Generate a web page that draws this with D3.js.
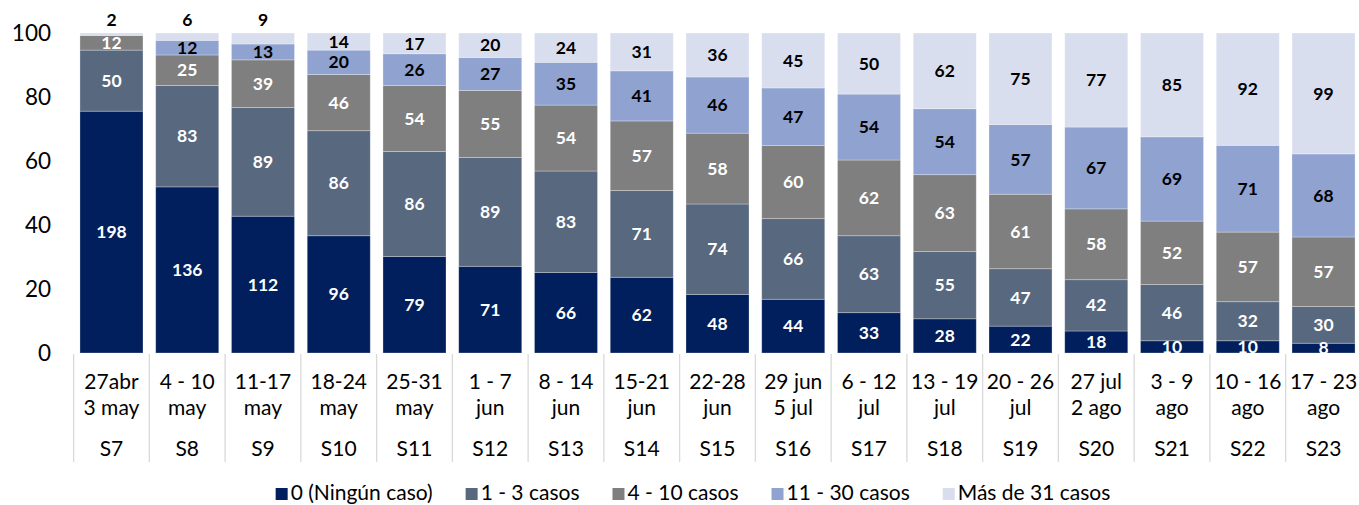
<!DOCTYPE html>
<html><head><meta charset="utf-8">
<script src="https://cdn.jsdelivr.net/npm/d3@7"></script>
<style>body{margin:0;background:#fff}svg{display:block;font-family:Lato,"Open Sans",sans-serif}</style>
</head><body><svg id="c" width="1359" height="505"></svg>
<script>
const weeks = ["S7","S8","S9","S10","S11","S12","S13","S14","S15","S16","S17","S18","S19","S20","S21","S22","S23"];
const dateLine1 = ["27abr","4 - 10","11-17","18-24","25-31","1 - 7","8 - 14","15-21","22-28","29 jun","6 - 12","13 - 19","20 - 26","27 jul","3 - 9","10 - 16","17 - 23"];
const dateLine2 = ["3 may","may","may","may","may","jun","jun","jun","jun","5 jul","jul","jul","jul","2 ago","ago","ago","ago"];
const seriesNames = ["0 (Ningún caso)","1 - 3 casos","4 - 10 casos","11 - 30 casos","Más de 31 casos"];
const ninguno = [198,136,112,96,79,71,66,62,48,44,33,28,22,18,10,10,8];
const casos1a3 = [50,83,89,86,86,89,83,71,74,66,63,55,47,42,46,32,30];
const casos4a10 = [12,25,39,46,54,55,54,57,58,60,62,63,61,58,52,57,57];
const casos11a30 = [0,12,13,20,26,27,35,41,46,47,54,54,57,67,69,71,68];
const casosMas31 = [2,6,9,14,17,20,24,31,36,45,50,62,75,77,85,92,99];
const yTicks = [0,20,40,60,80,100];

const colors = ["#001f5c","#58687f","#7f7f7f","#8fa2d0","#d9deef"];
const textColors = ["#fff","#fff","#fff","#000","#000"];
const series = [ninguno,casos1a3,casos4a10,casos11a30,casosMas31];

const svg = d3.select("#c");
const x = d3.scaleBand().domain(weeks).range([73.6,1361.4]).paddingInner(0.168).paddingOuter(0.084);
const y = d3.scaleLinear().domain([0,100]).range([353,33]);

const rows = weeks.map((w,i)=>{const r={week:w}; seriesNames.forEach((s,k)=>r[s]=series[k][i]); return r;});
const stack = d3.stack().keys(seriesNames).offset(d3.stackOffsetExpand);
const stacked = stack(rows);

// y axis labels
svg.append("g").selectAll("text").data(yTicks).join("text")
  .attr("x",51).attr("y",d=>y(d)).attr("dy","0.35em").attr("text-anchor","end")
  .attr("font-size",22.5).attr("fill","#000").text(d=>d);

// bars
const g = svg.append("g");
stacked.forEach((layer,k)=>{
  g.append("g").selectAll("rect").data(layer).join("rect")
    .attr("x",d=>x(d.data.week)).attr("width",x.bandwidth())
    .attr("y",d=>y(d[1]*100)).attr("height",d=>Math.max(0,y(d[0]*100)-y(d[1]*100)))
    .attr("fill",colors[k]).attr("stroke","rgba(255,255,255,0.35)").attr("stroke-width",0.8);
});
// labels
stacked.forEach((layer,k)=>{
  g.append("g").selectAll("text").data(layer.filter(d=>d.data[seriesNames[k]]>0)).join("text")
    .attr("x",d=>x(d.data.week)+x.bandwidth()/2)
    .attr("y",d=>{
      const h = y(d[0]*100)-y(d[1]*100);
      if (k===4 && h<12) return y(100)-13;
      return (y(d[0]*100)+y(d[1]*100))/2;
    })
    .attr("dy","0.35em").attr("text-anchor","middle")
    .attr("font-size",17.5).attr("font-weight","bold")
    .attr("fill",textColors[k]).text(d=>d.data[seriesNames[k]]);
});

// category axis separators
const step = x.step();
const bounds = weeks.map(w=>x(w)+x.bandwidth()/2-step/2).concat([x(weeks[weeks.length-1])+x.bandwidth()/2+step/2]);
svg.append("g").selectAll("line").data(bounds).join("line")
  .attr("x1",d=>d).attr("x2",d=>d).attr("y1",354).attr("y2",462)
  .attr("stroke","#d9d9d9").attr("stroke-width",1.3);

const cat = svg.append("g").attr("font-size",21).attr("fill","#000").attr("text-anchor","middle");
cat.selectAll(".l1").data(weeks).join("text").attr("x",d=>x(d)+x.bandwidth()/2).attr("y",389).text((d,i)=>dateLine1[i]);
cat.selectAll(".l2").data(weeks).join("text").attr("x",d=>x(d)+x.bandwidth()/2).attr("y",415).text((d,i)=>dateLine2[i]);
cat.selectAll(".l3").data(weeks).join("text").attr("x",d=>x(d)+x.bandwidth()/2).attr("y",456).text(d=>d);

// legend
const leg = svg.append("g");
let cx = 0;
const items = [];
seriesNames.forEach((s,k)=>{
  const it = leg.append("g");
  it.append("rect").attr("x",0).attr("y",-12).attr("width",12).attr("height",12).attr("fill",colors[k]);
  const t = it.append("text").attr("x",15).attr("y",0).attr("font-size",21).attr("fill","#000").text(s);
  const w = 15 + t.node().getComputedTextLength();
  items.push({it,w});
});
const gap = 33;
const total = d3.sum(items,d=>d.w)+gap*(items.length-1);
cx = 693 - total/2;
items.forEach(d=>{d.it.attr("transform",`translate(${cx},500)`); cx += d.w+gap;});
</script></body></html>
